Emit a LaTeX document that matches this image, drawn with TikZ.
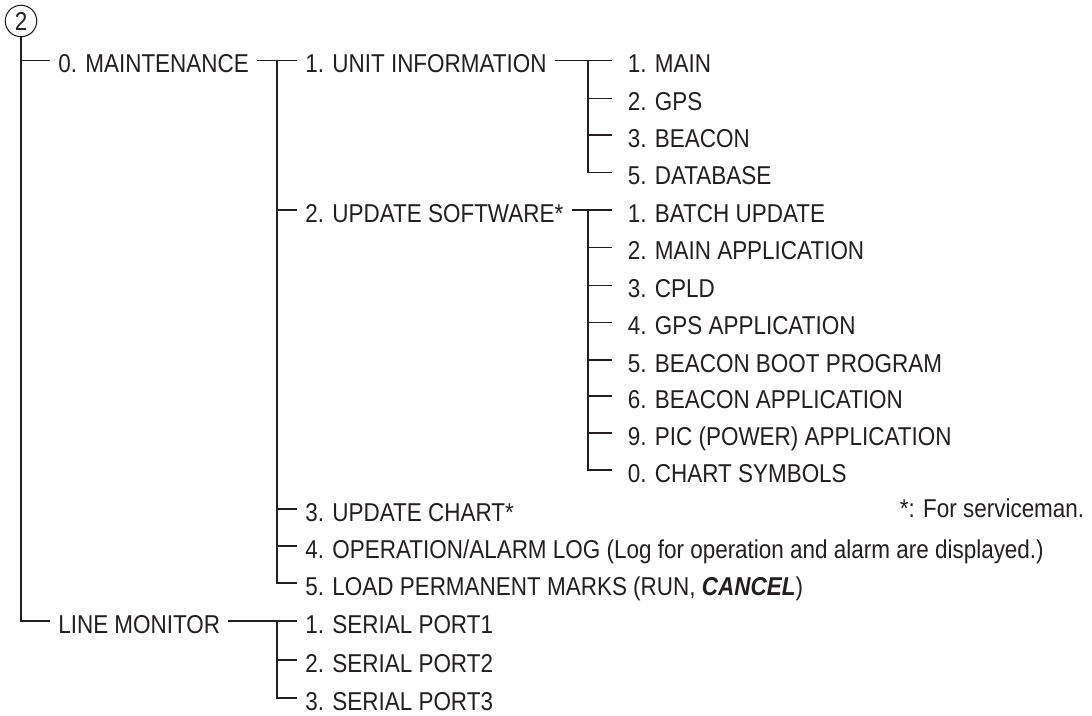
\documentclass[tikz,border=0pt]{standalone}
\usepackage{fontspec}
\setmainfont[FakeStretch=0.87]{Liberation Sans}
\definecolor{ink}{HTML}{231F20}
\begin{document}
\begin{tikzpicture}[
    x=0.02cm, y=-0.02cm, line width=0.9pt, color=ink,
    every node/.style={font=\fontsize{14.7}{17}\selectfont, text height=0.5cm, text depth=0pt},
    item/.style={anchor=west, inner xsep=0.15cm, inner ysep=0pt},
    leaf/.style={anchor=west, inner xsep=0.3cm, inner ysep=0pt}
  ]
    \useasboundingbox (0,0) rectangle (1092,716);
    \node[draw, circle, line width=0.6pt, minimum size=0.63cm, inner sep=0pt, text height=0.37cm] (c) at (21,21) {2};
    % first level
    \node[item] (m0) at (50,60.5) {0. MAINTENANCE};
    \node[item] (lm) at (50,621) {LINE MONITOR};
    \draw (c.south) |- (lm.west);
    \draw (c.south |- m0.west) -- (m0.west);
    % maintenance menu
    \node[item] (m1) at (297,60.5) {1. UNIT INFORMATION};
    \node[item] (m2) at (297,210) {2. UPDATE SOFTWARE*};
    \node[item] (m3) at (297,509) {3. UPDATE CHART*};
    \node[item] (m4) at (297,546) {4. OPERATION/ALARM LOG (Log for operation and alarm are displayed.)};
    \node[item] (m5) at (297,583) {5. LOAD PERMANENT MARKS (RUN, \textbf{\textit{CANCEL}})};
    \draw (m0) -- (m1);
    \coordinate (b1) at (277,60.5);
    \draw (b1) |- (m5.west);
    \foreach \n in {m2,m3,m4} \draw (b1 |- \n.west) -- (\n.west);
    % unit information
    \node[leaf] (u1) at (612,60.5) {1. MAIN};
    \node[leaf] (u2) at (612,98.5) {2. GPS};
    \node[leaf] (u3) at (612,135) {3. BEACON};
    \node[leaf] (u4) at (612,172.5) {5. DATABASE};
    \draw (m1) -- (u1);
    \coordinate (b2) at (588,60.5);
    \draw (b2) |- (u4.west);
    \foreach \n in {u2,u3} \draw (b2 |- \n.west) -- (\n.west);
    % update software
    \node[leaf] (s1) at (612,210) {1. BATCH UPDATE};
    \node[leaf] (s2) at (612,247.5) {2. MAIN APPLICATION};
    \node[leaf] (s3) at (612,285.5) {3. CPLD};
    \node[leaf] (s4) at (612,322.5) {4. GPS APPLICATION};
    \node[leaf] (s5) at (612,360) {5. BEACON BOOT PROGRAM};
    \node[leaf] (s6) at (612,396) {6. BEACON APPLICATION};
    \node[leaf] (s7) at (612,433) {9. PIC (POWER) APPLICATION};
    \node[leaf] (s8) at (612,470) {0. CHART SYMBOLS};
    \draw (m2) -- (s1);
    \coordinate (b3) at (588,210);
    \draw (b3) |- (s8.west);
    \foreach \n in {s2,s3,s4,s5,s6,s7} \draw (b3 |- \n.west) -- (\n.west);
    % line monitor
    \node[item] (p1) at (297,621) {1. SERIAL PORT1};
    \node[item] (p2) at (297,660) {2. SERIAL PORT2};
    \node[item] (p3) at (297,698) {3. SERIAL PORT3};
    \draw (lm) -- (p1);
    \coordinate (b4) at (277,621);
    \draw (b4) |- (p3.west);
    \draw (b4 |- p2.west) -- (p2.west);
    \node[anchor=east, inner sep=0pt] (fn) at (1085,505) {*: For serviceman.};
  \end{tikzpicture}
\end{document}
